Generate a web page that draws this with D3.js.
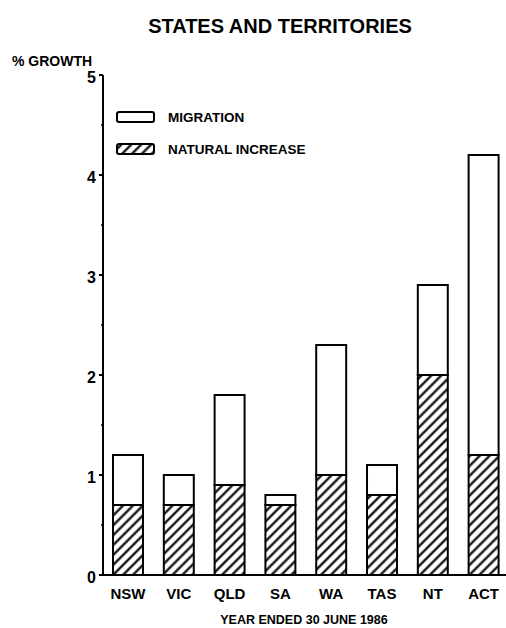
<!DOCTYPE html>
<html>
<head>
<meta charset="utf-8">
<script src="https://cdn.jsdelivr.net/npm/d3@7"></script>
<style>
  body { margin: 0; background: #fff; }
  text { font-family: "Liberation Sans", Arial, sans-serif; font-weight: bold; fill: #000; }
</style>
</head>
<body>
<svg id="chart" width="506" height="628"></svg>
<script>
// data (% growth, year ended 30 June 1986)
const states = ["NSW", "VIC", "QLD", "SA", "WA", "TAS", "NT", "ACT"];
const naturalIncrease = [0.7, 0.7, 0.9, 0.7, 1.0, 0.8, 2.0, 1.2];
const migration = [0.5, 0.3, 0.9, 0.1, 1.3, 0.3, 0.9, 3.0];
const yTicks = [0, 1, 2, 3, 4, 5];
const seriesNames = ["MIGRATION", "NATURAL INCREASE"];

const svg = d3.select("#chart");

// hatch pattern for natural increase
const defs = svg.append("defs");
const pat = defs.append("pattern")
    .attr("id", "hatch")
    .attr("patternUnits", "userSpaceOnUse")
    .attr("width", 7)
    .attr("height", 7)
    .attr("patternTransform", "rotate(45)");
pat.append("rect").attr("width", 7).attr("height", 7).attr("fill", "#fff");
pat.append("line")
    .attr("x1", 3.5).attr("y1", 0).attr("x2", 3.5).attr("y2", 7)
    .attr("stroke", "#000")
    .attr("stroke-width", 2.2);

const x = d3.scaleBand()
    .domain(states)
    .range([103, 508.6])
    .paddingInner(0.41)
    .paddingOuter(0.197);

const y = d3.scaleLinear().domain([0, 5]).range([575, 75]);

// stack natural increase at the bottom, migration on top
const rows = states.map((s, i) => ({ state: s, natural: naturalIncrease[i], migration: migration[i] }));
const stacked = d3.stack().keys(["natural", "migration"])(rows);

const fills = { natural: "url(#hatch)", migration: "#fff" };

svg.append("g")
    .selectAll("g")
    .data(stacked)
    .enter()
    .append("g")
    .attr("fill", (d) => fills[d.key])
    .selectAll("rect")
    .data((d) => d)
    .enter()
    .append("rect")
    .attr("x", (d) => x(d.data.state))
    .attr("y", (d) => y(d[1]))
    .attr("width", x.bandwidth())
    .attr("height", (d) => y(d[0]) - y(d[1]))
    .attr("stroke", "#000")
    .attr("stroke-width", 2);

// y axis
const yAxis = svg.append("g");
yAxis.append("line")
    .attr("x1", 103).attr("x2", 103)
    .attr("y1", y(0)).attr("y2", y(5))
    .attr("stroke", "#000").attr("stroke-width", 2);

yAxis.selectAll(".minor")
    .data(d3.range(0.5, 5, 1))
    .enter()
    .append("line")
    .attr("x1", 101).attr("x2", 103)
    .attr("y1", (d) => y(d)).attr("y2", (d) => y(d))
    .attr("stroke", "#000").attr("stroke-width", 1.5);

yAxis.selectAll(".tick")
    .data(yTicks)
    .enter()
    .append("line")
    .attr("x1", 99).attr("x2", 103)
    .attr("y1", (d) => y(d)).attr("y2", (d) => y(d))
    .attr("stroke", "#000").attr("stroke-width", 2);

yAxis.selectAll(".lbl")
    .data(yTicks)
    .enter()
    .append("text")
    .attr("x", 96)
    .attr("y", (d) => y(d) + 8)
    .attr("text-anchor", "end")
    .attr("font-size", 16)
    .text((d) => d);

// x baseline
svg.append("line")
    .attr("x1", 103).attr("x2", 506)
    .attr("y1", y(0)).attr("y2", y(0))
    .attr("stroke", "#000").attr("stroke-width", 2);

svg.append("g")
    .selectAll("text")
    .data(states)
    .enter()
    .append("text")
    .attr("x", (d) => x(d) + x.bandwidth() / 2)
    .attr("y", 599)
    .attr("text-anchor", "middle")
    .attr("font-size", 15)
    .text((d) => d);

// titles
svg.append("text")
    .attr("x", 280).attr("y", 33)
    .attr("text-anchor", "middle")
    .attr("font-size", 20)
    .text("STATES AND TERRITORIES");

svg.append("text")
    .attr("x", 12).attr("y", 66)
    .attr("font-size", 14)
    .text("% GROWTH");

svg.append("text")
    .attr("x", 304).attr("y", 624)
    .attr("text-anchor", "middle")
    .attr("font-size", 12.5)
    .text("YEAR ENDED 30 JUNE 1986");

// legend
const legend = svg.append("g")
    .selectAll("g")
    .data(seriesNames)
    .enter()
    .append("g")
    .attr("transform", (d, i) => `translate(117, ${112 + i * 32})`);

legend.append("rect")
    .attr("width", 37).attr("height", 10)
    .attr("rx", 2)
    .attr("fill", (d, i) => (i === 0 ? "#fff" : "url(#hatch)"))
    .attr("stroke", "#000").attr("stroke-width", 2);

legend.append("text")
    .attr("x", 51).attr("y", 10)
    .attr("font-size", 13.5)
    .text((d) => d);
</script>
</body>
</html>
